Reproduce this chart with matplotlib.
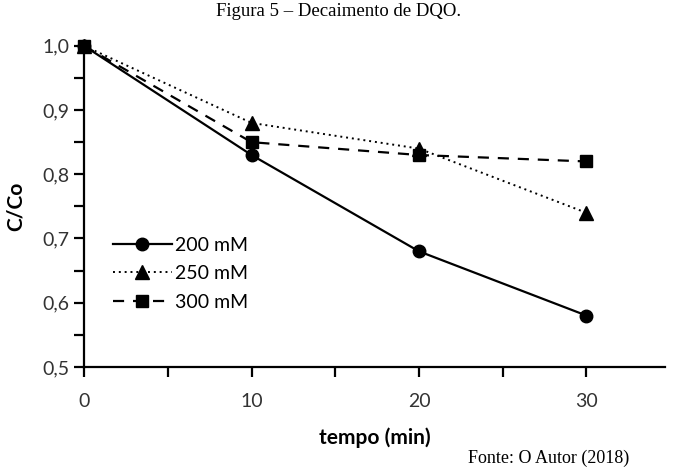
import matplotlib.pyplot as plt
from matplotlib.ticker import MultipleLocator

plt.rcParams['font.family'] = ['Lato', 'DejaVu Sans']

tempo = [0, 10, 20, 30]
c200 = [1.0, 0.83, 0.68, 0.58]
c250 = [1.0, 0.88, 0.84, 0.74]
c300 = [1.0, 0.85, 0.83, 0.82]

fig = plt.figure(figsize=(6.78, 4.68), dpi=100)
ax = fig.add_axes([0.124, 0.216, 0.857, 0.686])

ax.plot(tempo, c200, color='black', linewidth=1.6, linestyle='-', marker='o', markersize=9,
        label='200 mM', clip_on=False, zorder=3)
ax.plot(tempo, c250, color='black', linewidth=1.4, linestyle=(0, (1, 2)), marker='^', markersize=10,
        label='250 mM', clip_on=False, zorder=4)
ax.plot(tempo, c300, color='black', linewidth=1.6, linestyle=(0, (5, 4)), marker='s', markersize=9,
        label='300 mM', clip_on=False, zorder=5)

ax.set_xlim(0, 34.7)
ax.set_ylim(0.5, 1.0)
ax.xaxis.set_major_locator(MultipleLocator(10))
ax.xaxis.set_minor_locator(MultipleLocator(5))
ax.yaxis.set_major_locator(MultipleLocator(0.1))
ax.yaxis.set_minor_locator(MultipleLocator(0.05))
ax.yaxis.set_major_formatter(plt.FuncFormatter(lambda v, p: ('%.1f' % v).replace('.', ',')))

for s in ['top', 'right']:
    ax.spines[s].set_visible(False)
for s in ['left', 'bottom']:
    ax.spines[s].set_linewidth(1.6)
ax.tick_params(which='both', direction='out', width=1.6, length=7, labelsize=14, labelcolor='#333333')
ax.tick_params(axis='x', pad=12)

ax.set_xlabel('tempo (min)', fontsize=15, fontweight='bold', labelpad=12)
ax.set_ylabel('C/Co', fontsize=15, fontweight='bold')
ax.yaxis.set_label_coords(-0.1, 0.5)

ax.legend(loc='lower left', bbox_to_anchor=(0.02, 0.12), frameon=False, fontsize=14,
          handlelength=3, labelspacing=0.6, handletextpad=0.2)

fig.text(0.5, 0.975, 'Figura 5 – Decaimento de DQO.', ha='center', va='center',
         family='Liberation Serif', fontsize=13.5)
fig.text(0.69, 0.02, 'Fonte: O Autor (2018)', ha='left', va='center',
         family='Liberation Serif', fontsize=13)

fig.savefig('out.png', dpi=100)
